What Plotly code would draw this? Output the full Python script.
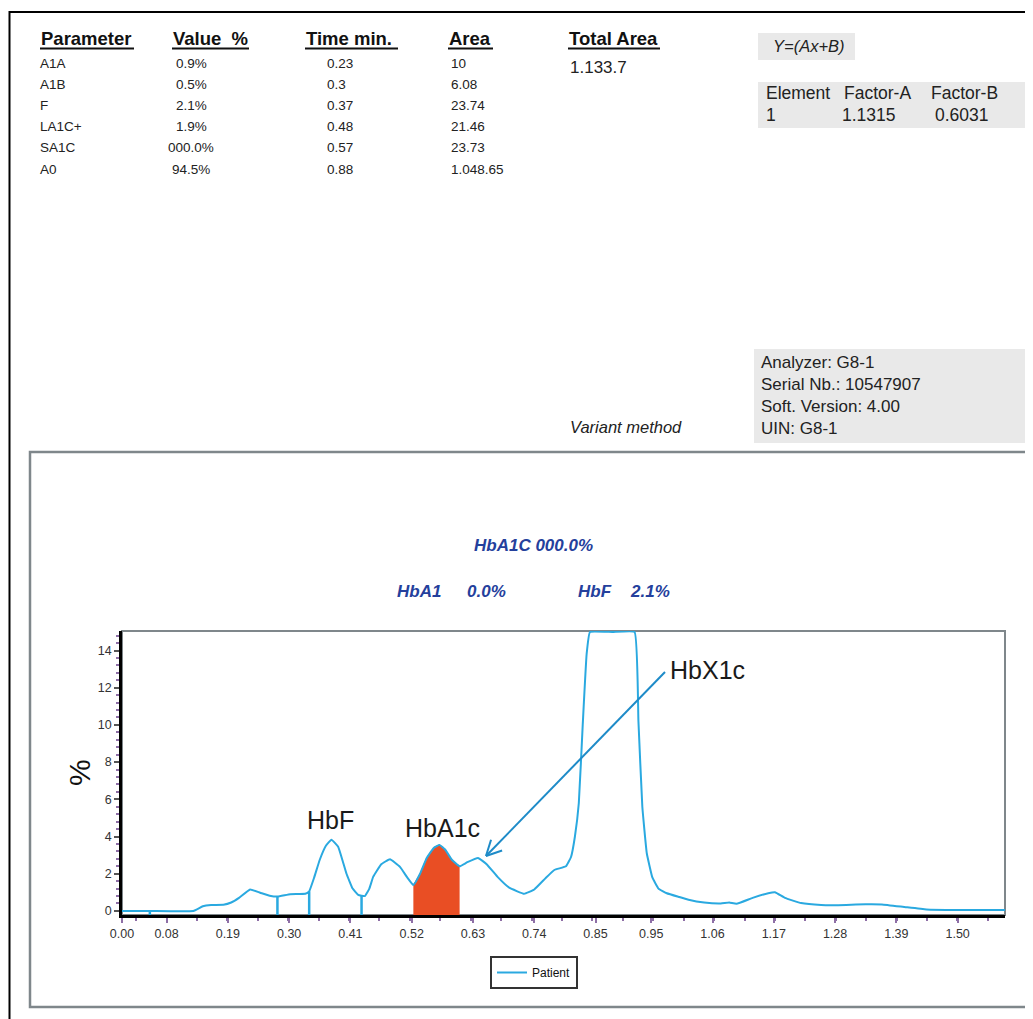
import math
import numpy as np
import plotly.graph_objects as go

# ---------------- data ----------------
TIME = [0.000, 0.050, 0.128, 0.145, 0.160, 0.182, 0.196, 0.210, 0.230, 0.248,
        0.265, 0.279, 0.302, 0.329, 0.336, 0.345, 0.355, 0.366, 0.376, 0.388,
        0.396, 0.403, 0.414, 0.424, 0.436, 0.444, 0.451, 0.465, 0.481, 0.499,
        0.512, 0.523, 0.535, 0.547, 0.560, 0.570, 0.580, 0.592, 0.606, 0.620,
        0.639, 0.655, 0.675, 0.695, 0.722, 0.740, 0.760, 0.776, 0.797, 0.806,
        0.813, 0.820, 0.827, 0.834, 0.840, 0.880, 0.920, 0.927, 0.934, 0.942,
        0.952, 0.963, 0.978, 1.000, 1.017, 1.045, 1.075, 1.090, 1.103, 1.132,
        1.160, 1.172, 1.190, 1.219, 1.255, 1.300, 1.335, 1.364, 1.407, 1.444,
        1.500, 1.585]
SIGNAL = [0.00, 0.00, 0.00, 0.25, 0.32, 0.33, 0.45, 0.70, 1.15, 0.98,
          0.82, 0.77, 0.90, 0.92, 1.05, 1.80, 2.75, 3.50, 3.83, 3.45,
          2.70, 2.00, 1.20, 0.86, 0.80, 1.20, 1.84, 2.50, 2.78, 2.37,
          1.80, 1.39, 2.00, 2.85, 3.40, 3.55, 3.30, 2.75, 2.40, 2.62,
          2.85, 2.50, 1.80, 1.25, 0.92, 1.15, 1.75, 2.20, 2.40, 2.90,
          4.00, 5.80, 10.0, 13.8, 15.0, 15.0, 15.0, 10.2, 5.60, 3.10,
          1.80, 1.20, 0.95, 0.75, 0.60, 0.45, 0.40, 0.45, 0.38, 0.70,
          0.95, 1.00, 0.70, 0.42, 0.32, 0.32, 0.36, 0.35, 0.20, 0.08,
          0.05, 0.05]

X_TICKS = [0.00, 0.08, 0.19, 0.30, 0.41, 0.52, 0.63, 0.74, 0.85, 0.95,
           1.06, 1.17, 1.28, 1.39, 1.50]
Y_TICKS = [0, 2, 4, 6, 8, 10, 12, 14]
BOUNDARIES = [0.050, 0.279, 0.336, 0.430]
HBA1C_START, HBA1C_END = 0.523, 0.606

PARAMS = ["A1A", "A1B", "F", "LA1C+", "SA1C", "A0"]
VALUES = ["0.9%", "0.5%", "2.1%", "1.9%", "000.0%", "94.5%"]
TIMES = ["0.23", "0.3", "0.37", "0.48", "0.57", "0.88"]
AREAS = ["10", "6.08", "23.74", "21.46", "23.73", "1.048.65"]
TOTAL_AREA = "1.133.7"
FACTOR_HEAD = ["Element", "Factor-A", "Factor-B"]
FACTOR_ROW = ["1", "1.1315", "0.6031"]
INFO = ["Analyzer: G8-1", "Serial Nb.: 10547907", "Soft. Version: 4.00", "UIN: G8-1"]

# ---------------- layout helpers ----------------
OFF = 8                      # default page body margin
W, H = 1033 - OFF, 1019 - OFF
# plot area in page pixels
L, R, T, B = 122, 1005, 631, 915
YMIN, YMAX = -0.22, 15.05
FONT = "Liberation Sans, Arial, sans-serif"
BLUE = "#2AA9E0"
RED = "#E94E24"


def px(x):
    return (x - L) / (R - L)


def py(y):
    return (B - y) / (B - T)


t = np.array(TIME)
v = np.array(SIGNAL)

fig = go.Figure()

# HbA1c filled area
mask = (t >= HBA1C_START) & (t <= HBA1C_END)
fig.add_trace(go.Scatter(x=t[mask], y=np.full(mask.sum(), YMIN), mode="lines",
                         line=dict(width=0, color=RED), showlegend=False,
                         hoverinfo="skip"))
fig.add_trace(go.Scatter(x=t[mask], y=v[mask], mode="lines", fill="tonexty",
                         fillcolor=RED, line=dict(width=1, color=RED,
                                                  shape="spline", smoothing=0.3),
                         showlegend=False, hoverinfo="skip"))

# peak boundary markers
bx, by = [], []
for b in BOUNDARIES:
    bx += [b, b, None]
    by += [YMIN, float(np.interp(b, t, v)), None]
fig.add_trace(go.Scatter(x=bx, y=by, mode="lines", line=dict(color=BLUE, width=2.5),
                         showlegend=False, hoverinfo="skip"))

# chromatogram
fig.add_trace(go.Scatter(x=t, y=v, mode="lines", name="Patient",
                         line=dict(color=BLUE, width=2, shape="spline", smoothing=0.3)))

shapes = []
annotations = []

# outer page border
shapes.append(dict(type="rect", xref="paper", yref="paper", x0=px(9.5), y0=py(12),
                   x1=px(1045), y1=py(1035), line=dict(color="black", width=2)))
# lower panel border
shapes.append(dict(type="rect", xref="paper", yref="paper", x0=px(30), y0=py(452),
                   x1=px(1027), y1=py(1007), line=dict(color="#7F878B", width=2.5)))
# plot frame (grey) – axis lines drawn black on top
shapes.append(dict(type="rect", xref="paper", yref="paper", x0=0, y0=0, x1=1, y1=1,
                   line=dict(color="#7F878B", width=2), layer="below"))
# grey info boxes
for (x0, y0, x1, y1) in [(758, 33, 855, 60), (758, 82, 1027, 128), (754, 349, 1025, 443)]:
    shapes.append(dict(type="rect", xref="paper", yref="paper", x0=px(x0), y0=py(y0),
                       x1=px(x1), y1=py(y1), fillcolor="#E9E9E9", line=dict(width=0),
                       layer="below"))


def text(x, y, s, size=14, bold=False, italic=False, color="#222", xanchor="left",
         angle=0):
    if bold:
        s = "<b>" + s + "</b>"
    if italic:
        s = "<i>" + s + "</i>"
    annotations.append(dict(x=px(x), y=py(y), xref="paper", yref="paper", text=s,
                            showarrow=False, xanchor=xanchor, yanchor="middle",
                            textangle=angle,
                            font=dict(family=FONT, size=size, color=color)))


# table headers with underline
headers = [("Parameter", 40, 134), ("Value  %", 172, 249), ("Time min.", 305, 398),
           ("Area", 448, 493), ("Total Area", 568, 660)]
for name, x0, x1 in headers:
    text(x0 - 1, 38, name, size=18.5, bold=True, color="#111")
    shapes.append(dict(type="line", xref="paper", yref="paper", x0=px(x0), x1=px(x1),
                       y0=py(48.5), y1=py(48.5), line=dict(color="#111", width=2)))

for i in range(len(PARAMS)):
    yy = 63 + i * 21.2
    text(38, yy, PARAMS[i], size=13.5)
    text(191, yy, VALUES[i], size=13.5, xanchor="center")
    text(325, yy, TIMES[i], size=13.5)
    text(449, yy, AREAS[i], size=13.5)

text(568, 67, TOTAL_AREA, size=17)
text(771, 46, "Y=(Ax+B)", size=16.5, italic=True)
for s, xx in zip(FACTOR_HEAD, [764, 842, 929]):
    text(xx, 93, s, size=17.5)
for s, xx in zip(FACTOR_ROW, [764, 840, 933]):
    text(xx, 115, s, size=17.5)
for i, line in enumerate(INFO):
    text(759, 362 + i * 22.3, line, size=17)
text(568, 427, "Variant method", size=16.5, italic=True)

# chart headings
HB = "#24409C"
text(533, 545, "HbA1C 000.0%", size=17, bold=True, italic=True, color=HB, xanchor="center")
text(395, 591, "HbA1", size=17, bold=True, italic=True, color=HB)
text(465, 591, "0.0%", size=17, bold=True, italic=True, color=HB)
text(576, 591, "HbF", size=17, bold=True, italic=True, color=HB)
text(628, 591, "2.1%", size=17, bold=True, italic=True, color=HB)

# y-axis title
text(79, 773, "%", size=30, color="#111", xanchor="center", angle=-90)

# peak labels
text(330, 820, "HbF", size=25, color="#1a1a1a", xanchor="center")
text(442, 828, "HbA1c", size=25, color="#1a1a1a", xanchor="center")
text(668, 670, "HbX1c", size=25, color="#1a1a1a")

# arrow HbX1c -> bump
tip = (486, 856)
tail = (665, 672)
ARW = "#1E8BC8"
shapes.append(dict(type="line", xref="paper", yref="paper", x0=px(tail[0]), y0=py(tail[1]),
                   x1=px(tip[0]), y1=py(tip[1]), line=dict(color=ARW, width=2)))
dx, dy = tail[0] - tip[0], tail[1] - tip[1]
ang = math.atan2(dy, dx)
for d in (math.radians(27), -math.radians(27)):
    ex = tip[0] + 17 * math.cos(ang + d)
    ey = tip[1] + 17 * math.sin(ang + d)
    shapes.append(dict(type="line", xref="paper", yref="paper", x0=px(tip[0]), y0=py(tip[1]),
                       x1=px(ex), y1=py(ey), line=dict(color=ARW, width=2)))

fig.update_layout(
    width=W, height=H,
    margin=dict(l=L - OFF, r=(1033 - R), t=T - OFF, b=(1019 - B), pad=0),
    paper_bgcolor="white", plot_bgcolor="white",
    shapes=shapes, annotations=annotations,
    showlegend=True,
    legend=dict(x=px(490), y=py(956), xanchor="left", yanchor="top",
                bordercolor="#333", borderwidth=2, bgcolor="white",
                font=dict(family=FONT, size=12, color="#111"),
                itemwidth=30, orientation="h", tracegroupgap=0),
    font=dict(family=FONT),
)
fig.update_xaxes(range=[0, 1.585], tickvals=X_TICKS,
                 ticktext=[f"{x:.2f}" for x in X_TICKS],
                 showgrid=False, zeroline=False, showline=True, linecolor="black",
                 linewidth=2.5, ticks="outside", ticklen=5, tickcolor="#8E6FA6",
                 tickwidth=1.5,
                 minor=dict(ticks="outside", ticklen=3, tickcolor="#8E6FA6",
                            dtick=0.0546, tick0=0.08, showgrid=False),
                 tickfont=dict(family=FONT, size=12.5, color="#333"))
fig.update_yaxes(range=[YMIN, YMAX], tickvals=Y_TICKS,
                 showgrid=False, zeroline=False, showline=True, linecolor="black",
                 linewidth=2.5, ticks="outside", ticklen=5, tickcolor="#555",
                 tickwidth=1.5,
                 minor=dict(ticks="outside", ticklen=3, tickcolor="#8E6FA6",
                            dtick=0.4, tick0=0, showgrid=False),
                 tickfont=dict(family=FONT, size=12.5, color="#333"))

fig.write_html("out.html")
